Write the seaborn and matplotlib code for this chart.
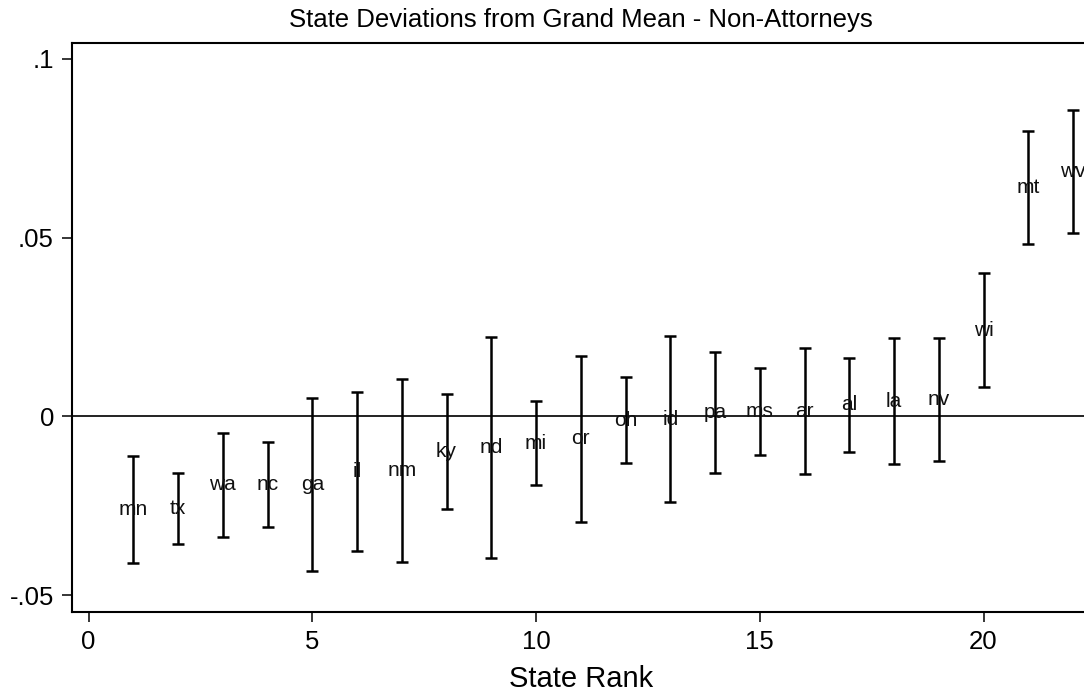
import numpy as np
import matplotlib
matplotlib.use("Agg")
import matplotlib.pyplot as plt
import seaborn as sns

# state ranks, labels and interval values
ranks = [1, 2, 3, 4, 5, 6, 7, 8, 9, 10, 11, 12, 13, 14, 15, 16, 17, 18, 19, 20, 21, 22]
states = ["mn", "tx", "wa", "nc", "ga", "il", "nm", "ky", "nd", "mi", "or",
          "oh", "id", "pa", "ms", "ar", "al", "la", "nv", "wi", "mt", "wv"]
est = [-0.0260, -0.0258, -0.0191, -0.0190, -0.0190, -0.0155, -0.0152, -0.0099,
       -0.0087, -0.0075, -0.0063, -0.0011, -0.0009, 0.0012, 0.0013, 0.0015,
       0.0032, 0.0043, 0.0048, 0.0241, 0.0640, 0.0685]
upper = [-0.0110, -0.0157, -0.0047, -0.0071, 0.0052, 0.0067, 0.0104, 0.0063,
         0.0221, 0.0042, 0.0169, 0.0110, 0.0224, 0.0179, 0.0135, 0.0191,
         0.0163, 0.0219, 0.0220, 0.0401, 0.0798, 0.0857]
lower = [-0.0409, -0.0358, -0.0336, -0.0308, -0.0433, -0.0377, -0.0406, -0.0259,
         -0.0396, -0.0191, -0.0294, -0.0130, -0.0240, -0.0157, -0.0108, -0.0162,
         -0.0100, -0.0134, -0.0125, 0.0081, 0.0482, 0.0513]

xticks = [0, 5, 10, 15, 20]
yticks = [-0.05, 0, 0.05, 0.1]
ytick_labels = ["-.05", "0", ".05", ".1"]

sns.set_theme(style="white")
plt.rcParams["font.family"] = ["Liberation Sans", "DejaVu Sans"]

fig = plt.figure(figsize=(10.84, 6.98), dpi=100)
# plot region runs a little past the right edge of the picture
ax = fig.add_axes([72 / 1084, 1 - 611.7 / 698, (1090 - 72) / 1084, (611.7 - 43) / 698])

est = np.array(est)
yerr = np.array([est - np.array(lower), np.array(upper) - est])

ax.axhline(0, color="#222222", lw=1.4, zorder=1)
ax.errorbar(ranks, est, yerr=yerr, fmt="none", ecolor="black",
            elinewidth=1.8, capsize=4.5, capthick=1.8, zorder=2)
for r, e, s in zip(ranks, est, states):
    ax.text(r, e, s, ha="center", va="center", fontsize=15, color="#111111", zorder=3)

ax.set_xlim(-0.37, 22.38)
ax.set_ylim(-0.0546, 0.1044)
ax.set_xticks(xticks)
ax.set_yticks(yticks)
ax.set_yticklabels(ytick_labels)

for sp in ax.spines.values():
    sp.set_color("black")
    sp.set_linewidth(1.5)
ax.tick_params(axis="both", which="major", direction="out", length=7, width=1.1,
               color="black", labelsize=18.5, pad=6, labelcolor="black",
               bottom=True, left=True)

ax.set_xlabel("State Rank", fontsize=21, color="black", labelpad=8)

fig.text(581 / 1084, 1 - 26.5 / 698, "State Deviations from Grand Mean - Non-Attorneys",
         ha="center", va="baseline", fontsize=18.5, color="black")

fig.savefig("out.png", dpi=100, facecolor="white")
